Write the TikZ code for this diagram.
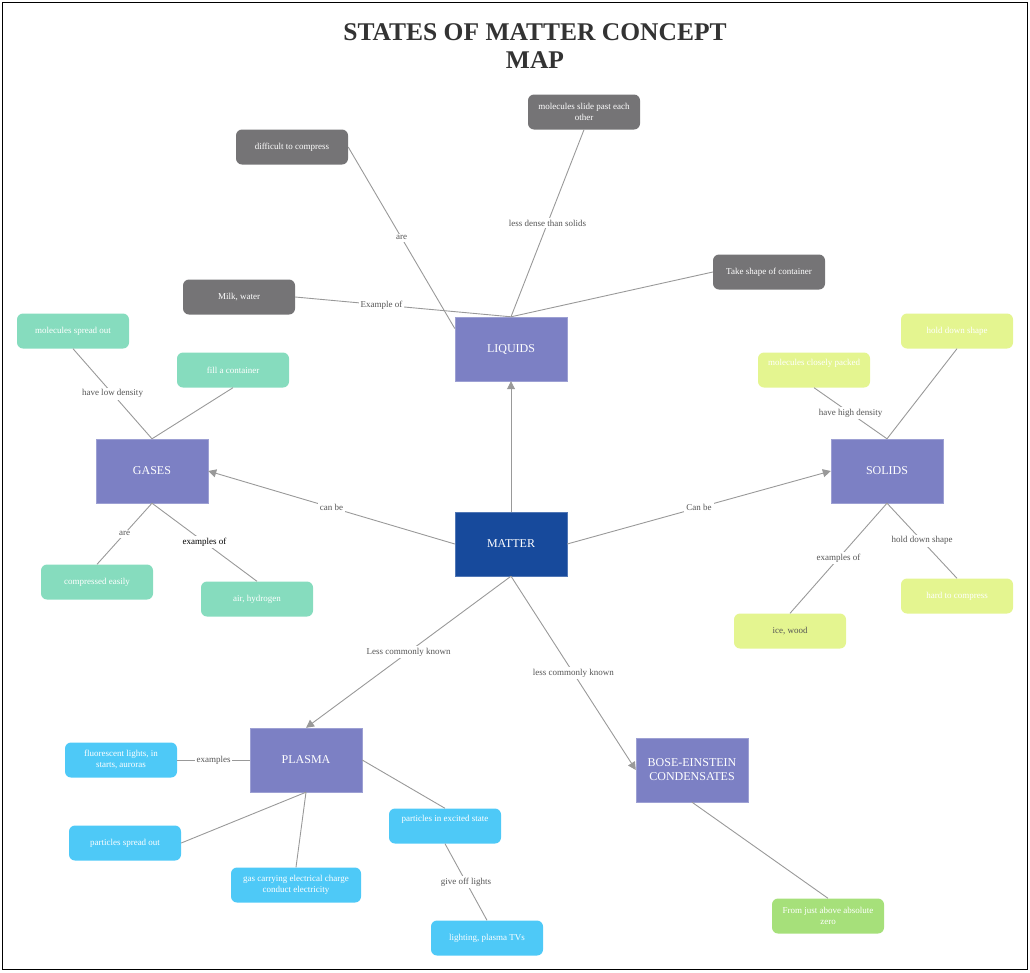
\documentclass[tikz,border=0pt]{standalone}
\usepackage{fontspec}
\setmainfont{Liberation Serif}
\usetikzlibrary{arrows.meta, positioning}
\definecolor{statepurple}{RGB}{124, 128, 196}
\definecolor{matterblue}{RGB}{23, 74, 156}
\definecolor{liqgray}{RGB}{117, 116, 118}
\definecolor{gasteal}{RGB}{134, 220, 190}
\definecolor{solidlime}{RGB}{228, 245, 144}
\definecolor{plasmasky}{RGB}{78, 201, 247}
\definecolor{becgreen}{RGB}{166, 224, 122}
\definecolor{linkgray}{RGB}{153, 153, 153}
\definecolor{labelgray}{RGB}{85, 85, 85}
\definecolor{titlegray}{RGB}{51, 51, 51}
\tikzset{
    statebox/.style={draw=statepurple!75!white, fill=statepurple, rectangle, minimum width=112pt, minimum height=64pt, font=\fontsize{12}{14}\selectfont, text=white, align=center},
    matterbox/.style={statebox, fill=matterblue, draw=matterblue!75!white},
    factbox/.style={rectangle, rounded corners=6pt, minimum width=112pt, minimum height=35pt, font=\fontsize{9}{11}\selectfont, text=white, align=center},
    liqfact/.style={factbox, fill=liqgray},
    gasfact/.style={factbox, fill=gasteal},
    solidfact/.style={factbox, fill=solidlime},
    plasmafact/.style={factbox, fill=plasmasky},
    becfact/.style={factbox, fill=becgreen},
    linkline/.style={draw=linkgray, line width=0.9pt},
    linkarrow/.style={linkline, -{Triangle[length=8pt, width=8pt]}},
    linklabel/.style={fill=white, font=\fontsize{9}{11}\selectfont, text=labelgray, inner sep=2pt},
}
\begin{document}
\begin{tikzpicture}[x=1pt, y=-1pt]
    \useasboundingbox (0,0) rectangle (1030,972);
    \draw[line width=1pt] (2.5,2.5) rectangle (1027,969);
    \node[font=\bfseries\fontsize{25.5}{28}\selectfont, text=titlegray, align=center] (title) at (535,46) {STATES OF MATTER CONCEPT\\MAP};

    % states
    \node[matterbox] (matter) at (511,544) {MATTER};
    \node[statebox] (liquids) at (511,349) {LIQUIDS};
    \node[statebox] (gases) at (152,471) {GASES};
    \node[statebox] (solids) at (887,471) {SOLIDS};
    \node[statebox] (plasma) at (306,760) {PLASMA};
    \node[statebox] (bec) at (692,770) {BOSE-EINSTEIN\\CONDENSATES};

    % liquids
    \node[liqfact] (compress) at (292,147) {difficult to compress};
    \node[liqfact] (slide) at (584,112) {molecules slide past each\\other};
    \node[liqfact] (milk) at (239,297) {Milk, water};
    \node[liqfact] (shape) at (769,272) {Take shape of container};

    % gases
    \node[gasfact] (spread) at (73,331) {molecules spread out};
    \node[gasfact] (fill) at (233,370) {fill a container};
    \node[gasfact] (easily) at (97,582) {compressed easily};
    \node[gasfact] (air) at (257,599) {air, hydrogen};

    % solids
    \node[solidfact] (holdtop) at (957,331) {hold down shape};
    \node[solidfact] (packed) at (814,370) {molecules closely packed\\\strut};
    \node[solidfact] (hard) at (957,596) {hard to compress};
    \node[solidfact, text=labelgray] (ice) at (790,631) {ice, wood};

    % plasma
    \node[plasmafact] (fluor) at (121,760) {fluorescent lights, in\\starts, auroras};
    \node[plasmafact] (pspread) at (125,843) {particles spread out};
    \node[plasmafact, minimum width=130pt] (charge) at (296,885) {gas carrying electrical charge\\conduct electricity};
    \node[plasmafact] (excited) at (445,826) {particles in excited state\\\strut};
    \node[plasmafact] (lighting) at (487,938) {lighting, plasma TVs};

    % bose-einstein
    \node[becfact] (zero) at (828,916) {From just above absolute\\zero};

    \draw[linkarrow] (matter.north) -- (liquids.south);
    \draw[linkarrow] (matter.west) -- node[linklabel] {can be} (gases.east);
    \draw[linkarrow] (matter.east) -- node[linklabel] {Can be} (solids.west);
    \draw[linkarrow] (matter.south) -- node[linklabel] {Less commonly known} (plasma.north);
    \draw[linkarrow] (matter.south) -- node[linklabel] {less commonly known} (bec.west);

    \draw[linkline] (compress.east) -- node[linklabel] {are} (liquids.160);
    \draw[linkline] (slide.south) -- node[linklabel] {less dense than solids} (liquids.north);
    \draw[linkline] (milk.east) -- node[linklabel, pos=0.4] {Example of} (liquids.north);
    \draw[linkline] (shape.west) -- (liquids.north);

    \draw[linkline] (spread.south) -- node[linklabel] {have low density} (gases.north);
    \draw[linkline] (fill.south) -- (gases.north);
    \draw[linkline] (gases.south) -- node[linklabel] {are} (easily.north);
    \draw[linkline] (gases.south) -- node[linklabel, text=black] {examples of} (air.north);

    \draw[linkline] (packed.south) -- node[linklabel] {have high density} (solids.north);
    \draw[linkline] (holdtop.south) -- (solids.north);
    \draw[linkline] (solids.south) -- node[linklabel] {hold down shape} (hard.north);
    \draw[linkline] (solids.south) -- node[linklabel] {examples of} (ice.north);

    \draw[linkline] (plasma.west) -- node[linklabel] {examples} (fluor.east);
    \draw[linkline] (plasma.south) -- (pspread.east);
    \draw[linkline] (plasma.south) -- (charge.north);
    \draw[linkline] (plasma.east) -- (excited.north);
    \draw[linkline] (excited.south) -- node[linklabel] {give off lights} (lighting.north);

    \draw[linkline] (bec.south) -- (zero.north);
\end{tikzpicture}
\end{document}
